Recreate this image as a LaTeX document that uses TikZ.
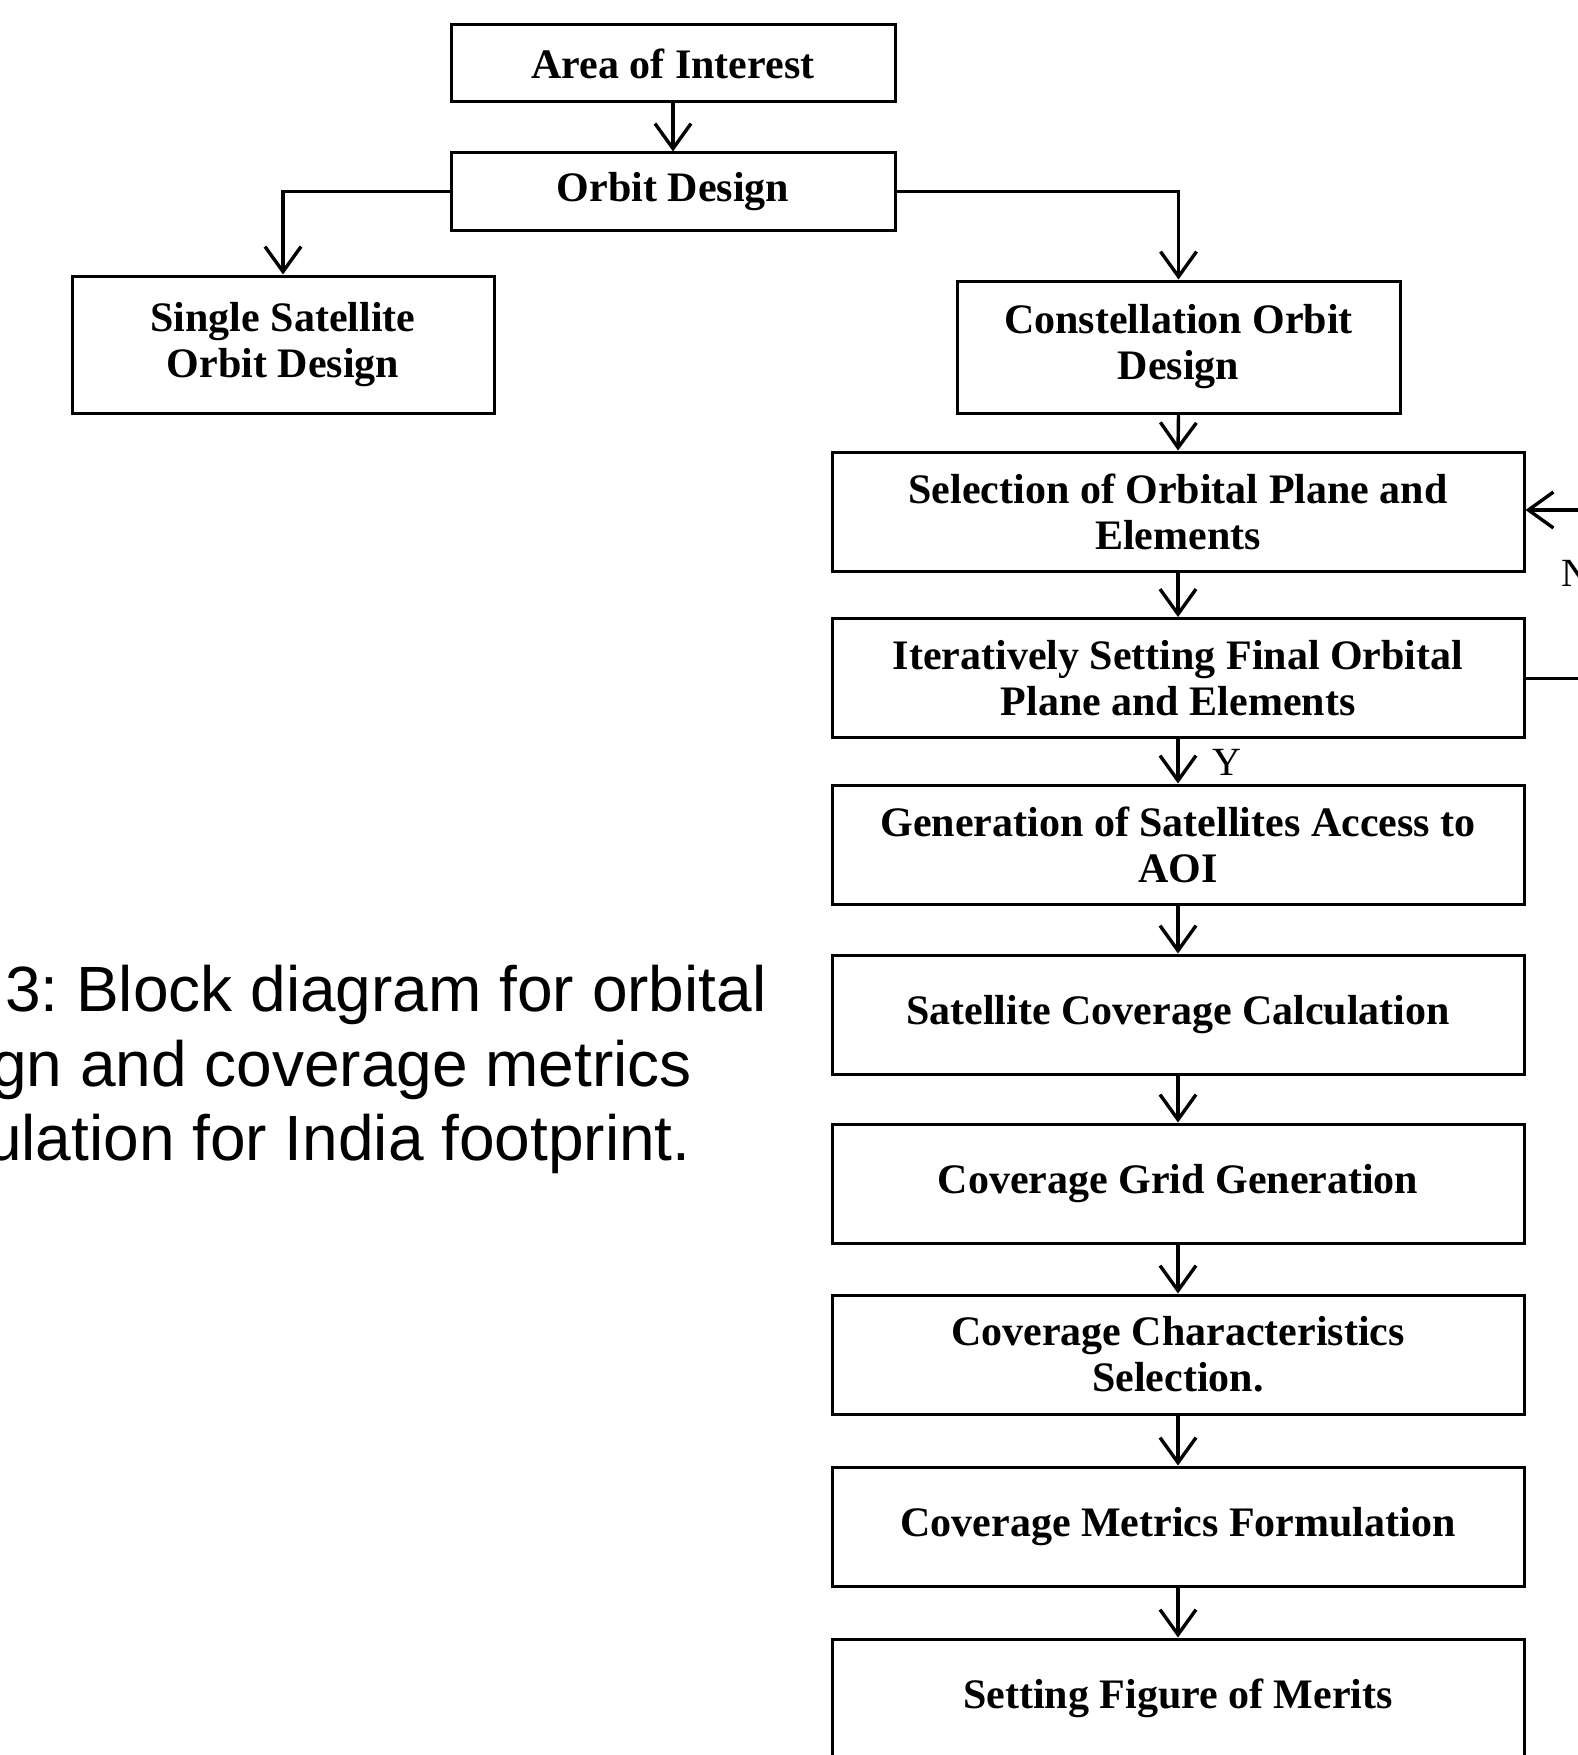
\documentclass[tikz,border=0pt]{standalone}
\usepackage{fontspec}
\setmainfont{Liberation Serif}
\newfontfamily\capfont{Liberation Sans}
\usetikzlibrary{arrows.meta}
\frenchspacing
\tikzset{
  box/.style={draw, line width=3pt, align=center, inner sep=0pt,
    font=\bfseries\fontsize{42}{46}\selectfont},
  colbox/.style={box, minimum width=692pt, minimum height=119pt},
  conn/.style={line width=3.4pt, -{Straight Barb[length=25pt, width=36pt, line width=3.4pt]}},
  plain/.style={line width=3pt},
  lbl/.style={font=\fontsize{40}{44}\selectfont, inner sep=0pt},
  captext/.style={font=\capfont\fontsize{64}{77}\selectfont, inner sep=0pt, anchor=base west}
}
\begin{document}
\begin{tikzpicture}[x=1pt, y=-1pt]
\useasboundingbox (0,0) rectangle (1577,1755);
\node[box, minimum width=444pt, minimum height=77pt] (aoi) at (673,63.5) {Area of Interest};
\node[box, minimum width=444pt, minimum height=77pt] (od) at (673,191.5) {Orbit Design};
\node[box, minimum width=422pt, minimum height=137pt] (ss) at (283,344.5) {Single Satellite\\Orbit Design};
\node[box, minimum width=443pt, minimum height=132pt] (co) at (1178.5,347) {Constellation Orbit\\Design};
\node[colbox] (sel) at (1178,511.5) {Selection of Orbital Plane and\\Elements};
\node[colbox] (it) at (1178,678) {Iteratively Setting Final Orbital\\Plane and Elements};
\node[colbox] (gen) at (1178,844.5) {Generation of Satellites Access to\\AOI};
\node[colbox] (scc) at (1178,1014.5) {Satellite Coverage Calculation};
\node[colbox] (cgg) at (1178,1183.5) {Coverage Grid Generation};
\node[colbox] (ccs) at (1178,1354.5) {Coverage Characteristics\\Selection.};
\node[colbox] (cmf) at (1178,1526.5) {Coverage Metrics Formulation};
\node[colbox] (sfm) at (1178,1698.5) {Setting Figure of Merits};

\draw[conn] (aoi.south) -- (od.north);
\draw[conn] (od.west) -| (ss.north);
\draw[conn] (od.east) -| (co.north);
\draw[conn] (co.south) -- (sel.north);
\draw[conn] (sel.south) -- (it.north);
\draw[conn] (it.south) -- (gen.north);
\draw[conn] (gen.south) -- (scc.north);
\draw[conn] (scc.south) -- (cgg.north);
\draw[conn] (cgg.south) -- (ccs.north);
\draw[conn] (ccs.south) -- (cmf.north);
\draw[conn] (cmf.south) -- (sfm.north);

\coordinate (fbA) at (1640,678);
\coordinate (fbB) at (1640,510);
\draw[plain] (it.east) -- (fbA) -- (fbB);
\draw[conn] (fbB) -- (sel.east |- fbB);

\node[lbl, anchor=west] (ylab) at (1212,762) {Y};
\node[lbl, anchor=west] (nlab) at (1561,573) {N};

\node[captext] (c1) at (5,1011) {3: Block diagram for orbital};
\node[captext] (c2) at (-9,1086) {gn and coverage metrics};
\node[captext] (c3) at (-14,1160) {ulation for India footprint.};
\end{tikzpicture}
\end{document}
